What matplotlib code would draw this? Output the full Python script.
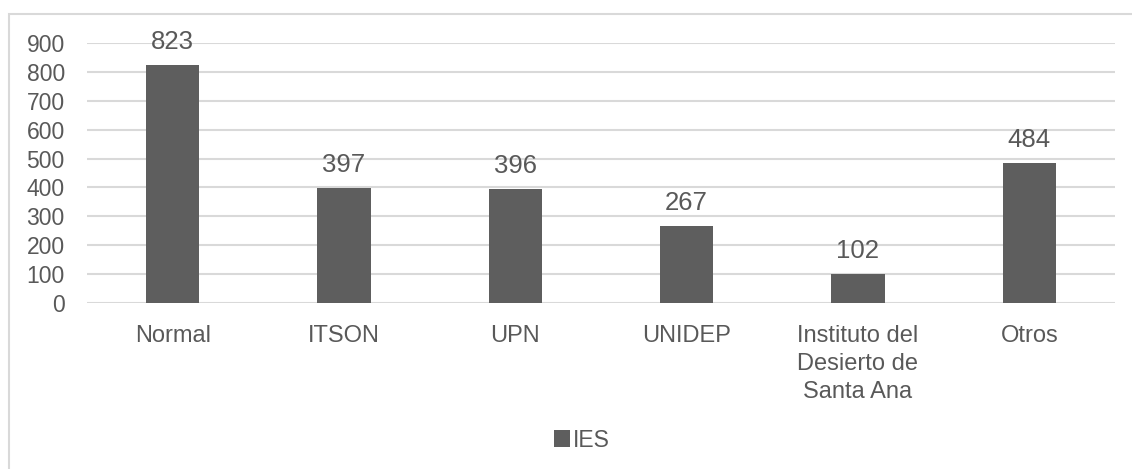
import matplotlib
matplotlib.use("Agg")
import matplotlib.pyplot as plt
from matplotlib.patches import Rectangle

plt.rcParams['font.family'] = ['Liberation Sans', 'DejaVu Sans']

categorias = ["Normal", "ITSON", "UPN", "UNIDEP", "Instituto del\nDesierto de\nSanta Ana", "Otros"]
valores = [823, 397, 396, 267, 102, 484]
yticks = [0, 100, 200, 300, 400, 500, 600, 700, 800, 900]

gris = "#5e5e5e"
texto = "#595959"
linea = "#d9d9d9"

W, H = 1132, 469
fig = plt.figure(figsize=(W / 100, H / 100), dpi=100)

# borde del grafico (estilo Excel), se sale por derecha y abajo
fig.patches.append(Rectangle((8.5 / W, -0.05), 1.2, 1.05 - 14.5 / H, transform=fig.transFigure,
                             fill=False, edgecolor=linea, linewidth=1.5))

ax = fig.add_axes([87 / W, (H - 303) / H, 1028 / W, 260 / H])
x = range(len(categorias))
barras = ax.bar(x, valores, width=0.3125, color=gris, label="IES", zorder=3)

for xi, v in zip(x, valores):
    ax.text(xi, v + 38, str(v), ha="center", va="bottom", fontsize=18.5, color=texto)

ax.set_xlim(-0.5, len(categorias) - 0.5)
ax.set_ylim(0, 900)
ax.set_yticks(yticks)
ax.set_xticks(list(x))
ax.set_xticklabels(categorias, fontsize=17, color=texto, linespacing=1.38)
ax.tick_params(axis="y", labelsize=16.5, labelcolor=texto, length=0, pad=16)
ax.tick_params(axis="x", length=0, pad=15.5)
ax.yaxis.grid(True, color=linea, linewidth=1.5, zorder=0)
for s in ax.spines.values():
    s.set_visible(False)

fig.legend(handles=[barras], labels=["IES"], loc="center", bbox_to_anchor=(582 / W, 1 - 440 / H),
           frameon=False, fontsize=16.5, labelcolor=texto, handlelength=0.7, handleheight=0.7,
           handletextpad=0.1)

fig.savefig("out.png", dpi=100)
